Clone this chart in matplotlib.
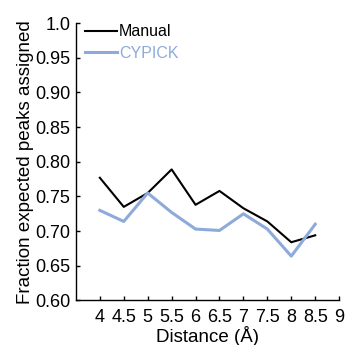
import matplotlib
matplotlib.use("Agg")
import matplotlib.pyplot as plt

plt.rcParams['font.family'] = ['Liberation Sans', 'DejaVu Sans']

distance = [4, 4.5, 5, 5.5, 6, 6.5, 7, 7.5, 8, 8.5]
manual = [0.777, 0.735, 0.755, 0.789, 0.738, 0.758, 0.733, 0.714, 0.684, 0.694]
cypick = [0.730, 0.714, 0.755, 0.727, 0.703, 0.701, 0.725, 0.703, 0.664, 0.710]
xticks = [4, 4.5, 5, 5.5, 6, 6.5, 7, 7.5, 8, 8.5, 9]
xticklabels = ["4", "4.5", "5", "5.5", "6", "6.5", "7", "7.5", "8", "8.5", "9"]
yticks = [0.60, 0.65, 0.70, 0.75, 0.80, 0.85, 0.90, 0.95, 1.0]
yticklabels = ["0.60", "0.65", "0.70", "0.75", "0.80", "0.85", "0.90", "0.95", "1.0"]

blue = "#8eaadb"

fig = plt.figure(figsize=(3.45, 3.45), dpi=100)
ax = fig.add_axes([0.220, 0.129, 0.763, 0.804])

ax.plot(distance, manual, color="black", lw=1.5, label="Manual")
ax.plot(distance, cypick, color=blue, lw=2.2, label="CYPICK")

ax.set_xlim(3.5, 9)
ax.set_ylim(0.6, 1.0)
ax.set_xticks(xticks)
ax.set_xticklabels(xticklabels)
ax.set_yticks(yticks)
ax.set_yticklabels(yticklabels)
ax.tick_params(direction="in", length=3, width=1, labelsize=13, pad=4)
ax.tick_params(axis="x", pad=6)
for s in ["top", "right"]:
    ax.spines[s].set_visible(False)
for s in ["left", "bottom"]:
    ax.spines[s].set_linewidth(1)

ax.set_xlabel("Distance (Å)", fontsize=13.5, labelpad=0)
ax.set_ylabel("Fraction expected peaks assigned", fontsize=13.5, labelpad=1)

leg = ax.legend(loc="upper left", bbox_to_anchor=(0.0, 1.03), frameon=False,
                fontsize=11.5, handlelength=2.0, handletextpad=0.1,
                labelspacing=0.42, borderaxespad=0.2)
for t, c in zip(leg.get_texts(), ["black", blue]):
    t.set_color(c)

fig.savefig("out.png", dpi=100)
